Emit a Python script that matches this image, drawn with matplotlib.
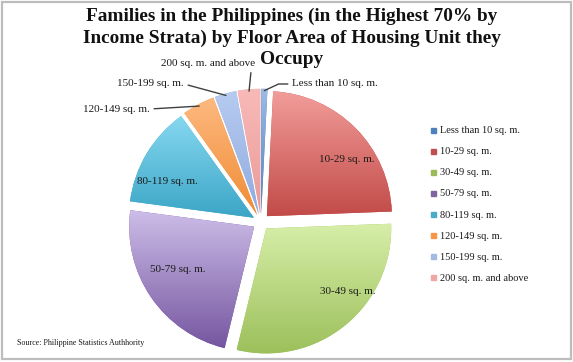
import numpy as np
import matplotlib
matplotlib.use("Agg")
import matplotlib.pyplot as plt
from matplotlib.colors import LinearSegmentedColormap
from matplotlib.patches import Rectangle
from matplotlib.lines import Line2D

# ---------------- data ----------------
categories = ["Less than 10 sq. m.", "10-29 sq. m.", "30-49 sq. m.", "50-79 sq. m.",
              "80-119 sq. m.", "120-149 sq. m.", "150-199 sq. m.", "200 sq. m. and above"]
shares = [0.8, 23.6, 29.4, 23.3, 13.0, 4.2, 2.8, 2.9]

title_lines = ["Families in the Philippines (in the Highest 70% by",
               "Income Strata) by Floor Area of Housing Unit they",
               "Occupy"]
source = "Source: Philippine Statistics Authhority"

# ---------------- style ----------------
base_colors = ["#4F7FC0", "#C24B48", "#9CBF5A", "#7556A0", "#3BA5C6", "#F08C34", "#8FABDF", "#E99A98"]
light_colors = ["#9DBBE6", "#F29D9A", "#D6EEA8", "#CDBDE8", "#86D8F0", "#FDB980", "#B7CBF0", "#F8BAB8"]
legend_colors = ["#4F81BD", "#C0504D", "#9BBB59", "#8064A2", "#4BACC6", "#F79646", "#A5B9E3", "#F0A8A6"]

SERIF = ["Liberation Serif", "DejaVu Serif"]
W, H = 573, 362
cx, cy, R = 261, 222, 125  # pie centre / radius in pixels
half = 175
title_baselines = [21, 43, 64]  # px from top

# label layout (pie-radius units relative to centre)
inside_pos = {1: (0.688, 0.496), 2: (0.696, -0.560), 3: (-0.664, -0.384), 4: (-0.752, 0.328)}
outside_pos = {0: ((0.248, 1.104), "left", (0, 0.5), "angle,angleA=180,angleB=25"),
               7: ((-0.424, 1.264), "center", (0.96, 0.0), "arc3"),
               6: ((-0.616, 1.104), "right", (1, 0.5), "arc3"),
               5: ((-0.888, 0.904), "right", (1, 0.5), "arc3")}

fig = plt.figure(figsize=(W / 100, H / 100), dpi=100)
fig.patch.set_facecolor("white")

ax = fig.add_axes([(cx - half) / W, (H - cy - half) / H, 2 * half / W, 2 * half / H])
explode = [0.066] * len(shares)
wedges, _ = ax.pie(shares, startangle=90, counterclock=False, explode=explode,
                   colors=base_colors, wedgeprops=dict(linewidth=0))

# vertical gradient fill per slice
for w, dk, lt in zip(wedges, base_colors, light_colors):
    v = w.get_path().vertices
    x0, x1 = v[:, 0].min(), v[:, 0].max()
    y0, y1 = v[:, 1].min(), v[:, 1].max()
    cmap = LinearSegmentedColormap.from_list("g", [dk, lt])
    grad = np.linspace(0, 1, 256).reshape(-1, 1)
    im = ax.imshow(grad, cmap=cmap, origin="lower", extent=[x0, x1, y0, y1],
                   aspect="auto", interpolation="bilinear", zorder=w.get_zorder() + 0.1)
    im.set_clip_path(w)

ax.set_xlim(-half / R, half / R)
ax.set_ylim(-half / R, half / R)
ax.set_aspect("auto")
ax.axis("off")

# inside labels
for i, (x, y) in inside_pos.items():
    ax.text(x, y, categories[i], ha="center", va="center", fontsize=8,
            family=SERIF, color="#1a1a1a", zorder=10)

# outside labels with leader lines
for i, ((x, y), ha, rel, cs) in outside_pos.items():
    w = wedges[i]
    mid = np.deg2rad((w.theta1 + w.theta2) / 2)
    c = w.center
    px, py = c[0] + np.cos(mid) * 0.985, c[1] + np.sin(mid) * 0.985
    ax.annotate(categories[i], xy=(px, py), xytext=(x, y), ha=ha, va="center",
                fontsize=8, family=SERIF, color="#1a1a1a", zorder=10,
                arrowprops=dict(arrowstyle="-", color="#404040", lw=1.0,
                                relpos=rel, connectionstyle=cs,
                                shrinkA=1, shrinkB=0))

# title (one text per line)
for line, yb in zip(title_lines, title_baselines):
    fig.text(292 / W, 1 - yb / H, line, ha="center", va="baseline", fontsize=13.9,
             fontweight="bold", family=SERIF, color="#111111")

# legend
handles = [Line2D([], [], marker="s", linestyle="none", markersize=3.6,
                  markerfacecolor=c, markeredgecolor=c) for c in legend_colors]
fig.legend(handles, categories, loc="upper left",
           bbox_to_anchor=(430 / W, 1 - 126 / H), frameon=False,
           prop=dict(family=SERIF, size=7.5), borderpad=0, borderaxespad=0,
           handlelength=0.6, handletextpad=0.35, labelspacing=1.13,
           labelcolor="#1a1a1a")

# source
fig.text(17 / W, 1 - 343 / H, source, ha="left", va="center", fontsize=5.8,
         family=SERIF, color="#1a1a1a")

# frame
fig.patches.append(Rectangle((2 / W, 3 / H), 569 / W, 357 / H, transform=fig.transFigure,
                             fill=False, edgecolor="#BDBDBD", linewidth=1.6))

fig.savefig("out.png", dpi=100, facecolor="white")
